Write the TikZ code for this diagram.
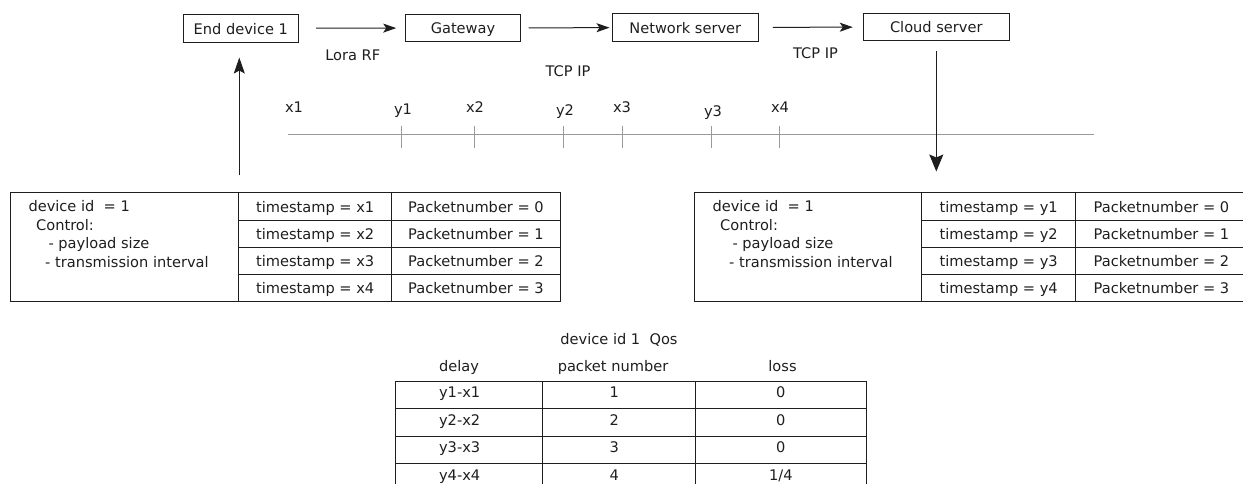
\documentclass[tikz,border=0pt]{standalone}
\usepackage{fontspec}
\setmainfont{DejaVu Sans}
\usetikzlibrary{arrows.meta}
\definecolor{ink}{HTML}{1E1E1E}
\definecolor{axisgray}{HTML}{9A9A9A}
\begin{document}
\begin{tikzpicture}[x=1pt,y=-1pt,
  every node/.style={font=\fontsize{14.6}{18}\selectfont, text=ink, inner sep=0pt},
  boxed/.style={draw=ink, line width=1pt, text height=12pt, text depth=0pt},
  stage/.style={boxed, minimum height=27.5pt, minimum width=#1},
  cell/.style={boxed, anchor=north west},
  flow/.style={draw=ink, line width=1pt, -{Stealth[length=13pt,width=9pt,inset=3pt]}},
  upflow/.style={draw=ink, line width=1pt, -{Stealth[length=16pt,width=11pt,inset=3pt]}},
  downflow/.style={draw=ink, line width=1pt, -{Stealth[length=17pt,width=14pt,inset=3pt]}},
  axis/.style={draw=axisgray, line width=1pt},
  tick/.style={draw=axisgray, line width=1pt},
  desc/.style={anchor=base west},
  stamp/.style={anchor=base},
  entry/.style={text height=12pt, text depth=0pt},
]
\useasboundingbox (0,0) rectangle (1243,484);
\clip (0,0) rectangle (1243,484);

% ---- transmission chain ----
\node[stage=115pt]   (ed) at (240.8,28.3) {End device 1};
\node[stage=115.4pt] (gw) at (463,28)     {Gateway};
\node[stage=146pt]   (ns) at (685.3,27.5) {Network server};
\node[stage=146pt]   (cs) at (936.3,27)   {Cloud server};

\draw[flow, shorten <=17.4pt, shorten >=8.6pt] (ed) -- (gw);
\draw[flow, shorten <=7.3pt,  shorten >=2.3pt] (gw) -- (ns);
\draw[flow, shorten <=14pt,   shorten >=10pt]  (ns) -- (cs);

\node (lora) at (352.8,55.3) {Lora RF};
\node (tcp1) at (568,71)     {TCP IP};
\node (tcp2) at (815.5,53.3) {TCP IP};

% ---- time axis ----
\coordinate (axA) at (288,135);
\coordinate (axB) at (1094,135);
\draw[axis] (axA) -- (axB);
\foreach \x in {401.8,474.6,563.9,622.1,711.4,779.6}
  \draw[tick] (\x,126) -- (\x,148);
\node[stamp] (tx1) at (294,113)   {x1};
\node[stamp] (ty1) at (403,115)   {y1};
\node[stamp] (tx2) at (475,113)   {x2};
\node[stamp] (ty2) at (565,116)   {y2};
\node[stamp] (tx3) at (622,113)   {x3};
\node[stamp] (ty3) at (713,117)   {y3};
\node[stamp] (tx4) at (780,113)   {x4};

% ---- sender record ----
\node[cell, minimum width=228.3pt, minimum height=108.2pt] (ldesc) at (10,192.5) {};
\node[desc] (ld1) at (28.3,211.5) {device id\ \ = 1};
\node[desc] (ld2) at (36,230)     {Control:};
\node[desc] (ld3) at (48.3,248.5) {- payload size};
\node[desc] (ld4) at (45,267)     {- transmission interval};
\foreach \i/\p in {1/0,2/1,3/2,4/3}{
  \node[cell, minimum width=152.7pt, minimum height=27.05pt] (lts\i) at (238.3,{192.5+27.05*(\i-1)}) {timestamp = x\i};
  \node[cell, minimum width=169pt, minimum height=27.05pt]   (lpk\i) at (391,{192.5+27.05*(\i-1)})   {Packetnumber = \p};
}

% ---- receiver record ----
\node[cell, minimum width=227pt, minimum height=108.2pt] (rdesc) at (694.3,192.5) {};
\node[desc] (rd1) at (712.3,211.5) {device id\ \ = 1};
\node[desc] (rd2) at (720,230)     {Control:};
\node[desc] (rd3) at (732.3,248.5) {- payload size};
\node[desc] (rd4) at (729,267)     {- transmission interval};
\foreach \i/\p in {1/0,2/1,3/2,4/3}{
  \node[cell, minimum width=153.7pt, minimum height=27.05pt] (rts\i) at (921.3,{192.5+27.05*(\i-1)}) {timestamp = y\i};
  \node[cell, minimum width=172pt, minimum height=27.05pt]   (rpk\i) at (1075,{192.5+27.05*(\i-1)})  {Packetnumber = \p};
}

% ---- vertical hand-offs ----
\draw[upflow, shorten <=17pt, shorten >=15pt] (ldesc.north east) -- (ldesc.north east |- ed.south);
\draw[downflow, shorten <=10pt, shorten >=21pt] (cs.south) -- (cs.south |- rdesc.north);

% ---- QoS summary ----
\node[stamp] (qtitle) at (619,344.3) {device id 1\ \ Qos};
\node[stamp] (hdelay) at (459,371.7) {delay};
\node[stamp] (hpkt)   at (613,371.7) {packet number};
\node[stamp] (hloss)  at (782.5,371.7) {loss};
\foreach \i/\n in {1/1,2/2,3/3,4/4}{
  \node[cell, minimum width=147.3pt, minimum height=27.5pt] (qd\i) at (395,{380.7+27.5*(\i-1)})   {};
  \node[cell, minimum width=152.7pt, minimum height=27.5pt] (qp\i) at (542.3,{380.7+27.5*(\i-1)}) {};
  \node[cell, minimum width=170.7pt, minimum height=27.5pt] (ql\i) at (695,{380.7+27.5*(\i-1)})   {};
  \node[entry] (qdt\i) at ([xshift=-9.5pt,yshift=3pt]qd\i.center) {y\i-x\i};
  \node[entry] (qpt\i) at ([xshift=-5pt,yshift=3pt]qp\i.center)   {\n};
}
\node[entry] (qlt1) at ([yshift=3pt]ql1.center) {0};
\node[entry] (qlt2) at ([yshift=3pt]ql2.center) {0};
\node[entry] (qlt3) at ([yshift=3pt]ql3.center) {0};
\node[entry] (qlt4) at ([yshift=3pt]ql4.center) {1/4};
\end{tikzpicture}
\end{document}
